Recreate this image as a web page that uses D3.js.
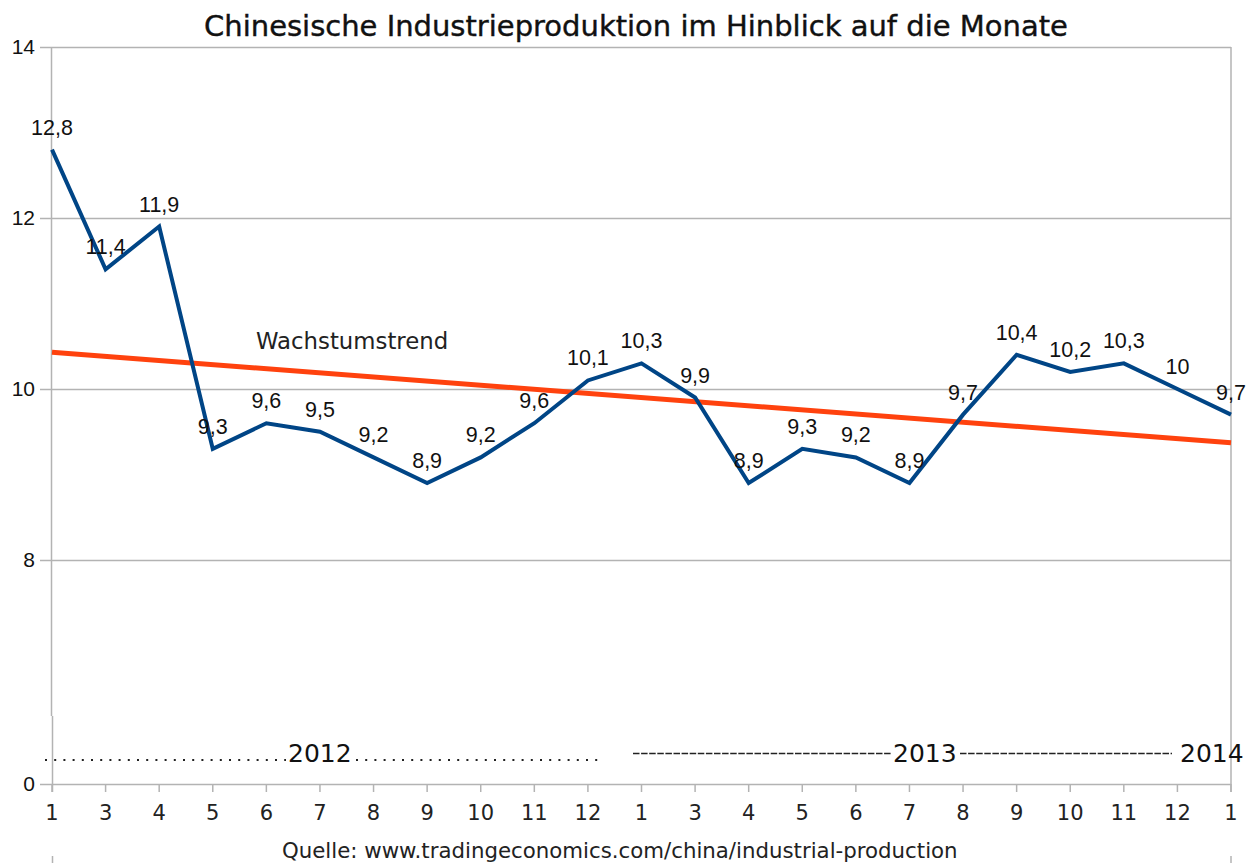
<!DOCTYPE html>
<html>
<head>
  <meta charset="utf-8">
  <script src="https://d3js.org/d3.v7.min.js"></script>
  <style>
    body { margin: 0; background: #fff; }
    text { fill: #111; }
  </style>
</head>
<body>
<script>
  // month labels on the x axis (Jan 2012 .. Jan 2014, February is missing)
  var months = ["1","3","4","5","6","7","8","9","10","11","12",
                "1","3","4","5","6","7","8","9","10","11","12","1"];
  // industrial production growth, % yoy
  var production = [12.8, 11.4, 11.9, 9.3, 9.6, 9.5, 9.2, 8.9, 9.2, 9.6, 10.1,
                    10.3, 9.9, 8.9, 9.3, 9.2, 8.9, 9.7, 10.4, 10.2, 10.3, 10.0, 9.7];
  // trend line, value at first and at last month
  var trend = [10.43, 9.37];
  var yTicks = [0, 8, 10, 12, 14];

  var W = 1256, H = 863;
  var left = 52, right = 1231;

  var svg = d3.select("body").append("svg")
      .attr("width", W).attr("height", H);

  var keys = d3.range(months.length);
  var x = d3.scalePoint().domain(keys).range([left, right]);
  // the axis is broken between 0 and 8
  var y = d3.scaleLinear().domain([0, 8, 14]).range([784, 560, 47]);

  // title
  svg.append("text")
    .attr("x", 636).attr("y", 36)
    .attr("text-anchor", "middle")
    .style("font-family", "DejaVu Sans")
    .style("font-size", "29px")
    .style("stroke", "#111").style("stroke-width", 0.4)
    .text("Chinesische Industrieproduktion im Hinblick auf die Monate");

  // gridlines + y labels
  var grid = svg.append("g");
  grid.selectAll("line").data(yTicks).enter().append("line")
    .attr("x1", 40).attr("x2", right)
    .attr("y1", function (d) { return Math.round(y(d)) + 0.5; })
    .attr("y2", function (d) { return Math.round(y(d)) + 0.5; })
    .style("stroke", "#b3b3b3").style("stroke-width", 1.5);
  grid.selectAll("text").data(yTicks).enter().append("text")
    .attr("x", 35)
    .attr("y", function (d) { return y(d) + 7; })
    .attr("text-anchor", "end")
    .style("font-family", "Liberation Sans")
    .style("font-size", "21px")
    .text(function (d) { return d; });

  // left axis and right border
  svg.append("line").attr("x1", left - 0.5).attr("x2", left - 0.5)
    .attr("y1", 47).attr("y2", 716)
    .style("stroke", "#b3b3b3").style("stroke-width", 1.5);
  svg.append("line").attr("x1", left + 0.5).attr("x2", left + 0.5)
    .attr("y1", 716).attr("y2", 792)
    .style("stroke", "#b3b3b3").style("stroke-width", 1.5);
  svg.append("line").attr("x1", right).attr("x2", right)
    .attr("y1", 47).attr("y2", 792)
    .style("stroke", "#b3b3b3").style("stroke-width", 1.5);
  [left + 0.5, right].forEach(function (px) {
    svg.append("line").attr("x1", px).attr("x2", px)
      .attr("y1", 856).attr("y2", H)
      .style("stroke", "#b3b3b3").style("stroke-width", 1.5);
  });

  // x axis ticks and month labels
  var xa = svg.append("g");
  xa.selectAll("line").data(keys).enter().append("line")
    .attr("x1", function (d) { return x(d); })
    .attr("x2", function (d) { return x(d); })
    .attr("y1", 784).attr("y2", 792)
    .style("stroke", "#b3b3b3").style("stroke-width", 1.5);
  xa.selectAll("text").data(keys).enter().append("text")
    .attr("x", function (d) { return x(d); })
    .attr("y", 820)
    .attr("text-anchor", "middle")
    .style("font-family", "DejaVu Sans")
    .style("font-size", "21px")
    .style("fill", "#222")
    .text(function (d) { return months[d]; });

  // year row
  var yr = svg.append("g").style("font-family", "DejaVu Sans").style("font-size", "25px")
    .style("fill", "#222");
  function dots(x1, x2) {
    yr.append("line").attr("x1", x1).attr("x2", x2).attr("y1", 760).attr("y2", 760)
      .style("stroke", "#222").style("stroke-width", 2).style("stroke-dasharray", "2,7.2");
  }
  function dashes(x1, x2) {
    yr.append("line").attr("x1", x1).attr("x2", x2).attr("y1", 753.5).attr("y2", 753.5)
      .style("stroke", "#222").style("stroke-width", 1.3).style("stroke-dasharray", "6.5,1.6");
  }
  dots(45, 286);
  yr.append("text").attr("x", 288).attr("y", 762).text("2012");
  dots(356, 598);
  dashes(633, 891);
  yr.append("text").attr("x", 893).attr("y", 762).text("2013");
  dashes(960, 1172);
  yr.append("text").attr("x", 1180).attr("y", 762).text("2014");

  // trend line
  svg.append("line")
    .attr("x1", x(0)).attr("y1", y(trend[0]))
    .attr("x2", x(keys.length - 1)).attr("y2", y(trend[1]))
    .style("stroke", "#ff420e").style("stroke-width", 5);
  svg.append("text")
    .attr("x", 256).attr("y", 349)
    .style("font-family", "DejaVu Sans")
    .style("font-size", "22.8px")
    .style("fill", "#222")
    .text("Wachstumstrend");

  // production line
  var line = d3.line()
    .x(function (d, i) { return x(i); })
    .y(function (d) { return y(d); });
  svg.append("path").datum(production)
    .attr("d", line)
    .style("fill", "none")
    .style("stroke", "#004586")
    .style("stroke-width", 4)
    .style("stroke-linejoin", "miter");

  // value labels
  svg.append("g").selectAll("text").data(production).enter().append("text")
    .attr("x", function (d, i) { return x(i); })
    .attr("y", function (d) { return y(d) - 15; })
    .attr("text-anchor", "middle")
    .style("font-family", "Liberation Sans")
    .style("font-size", "21.5px")
    .text(function (d) { return String(d).replace(".", ","); });

  // source
  svg.append("text")
    .attr("x", 282).attr("y", 858)
    .style("font-family", "DejaVu Sans")
    .style("font-size", "21.3px")
    .style("fill", "#222")
    .text("Quelle: www.tradingeconomics.com/china/industrial-production");
</script>
</body>
</html>
